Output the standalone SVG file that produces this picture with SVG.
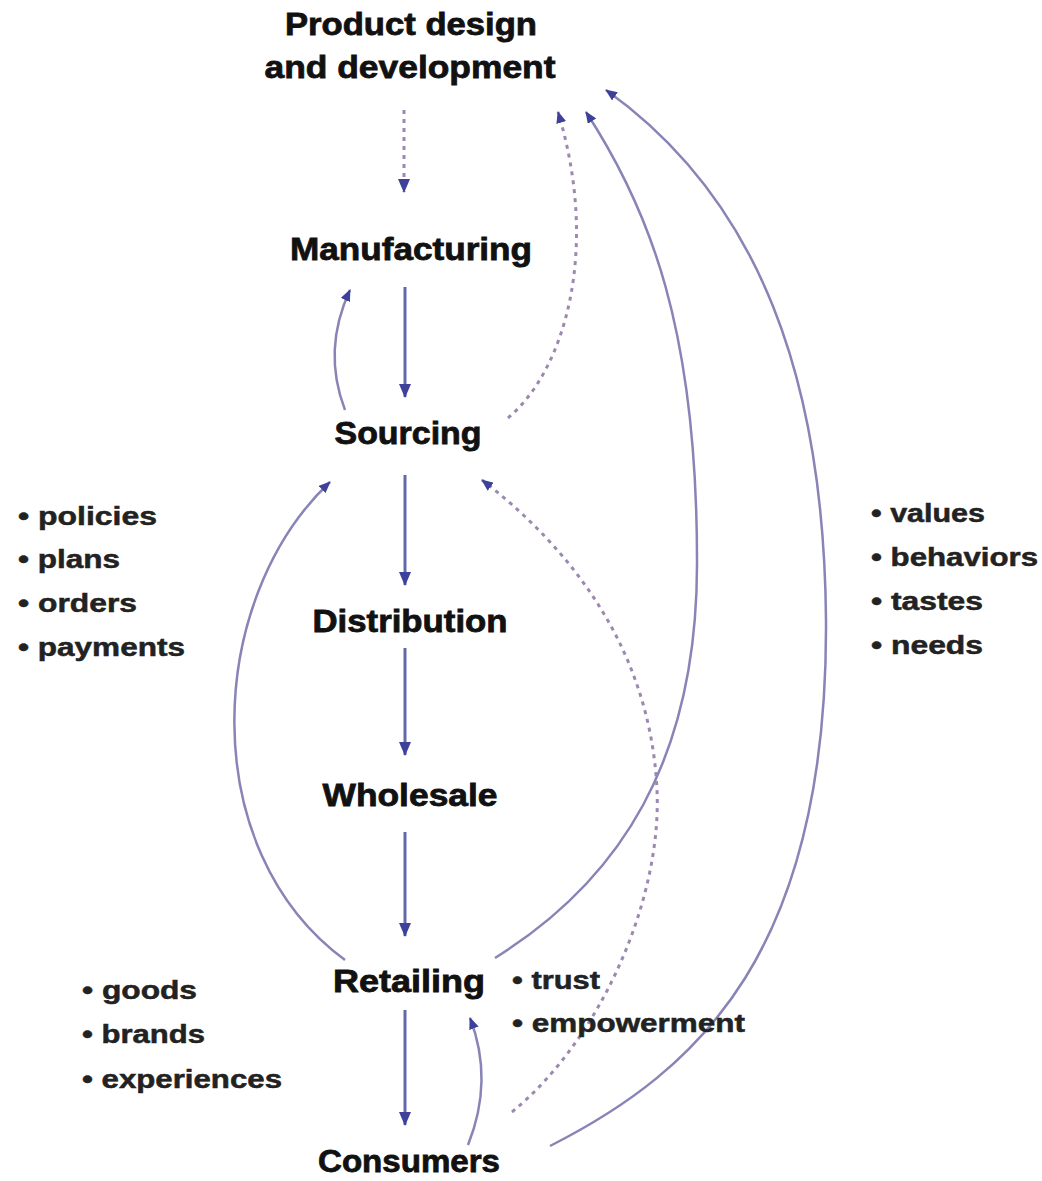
<svg xmlns="http://www.w3.org/2000/svg" width="1042" height="1181" viewBox="0 0 1042 1181">
<style>
.node{font-family:"Liberation Sans",Arial,sans-serif;font-weight:bold;font-size:32px;fill:#111;stroke:#111;stroke-width:0.8;}
.item{font-family:"Liberation Sans",Arial,sans-serif;font-weight:bold;font-size:25px;fill:#222;stroke:#222;stroke-width:0.5;}
.main{fill:none;stroke:#6368ad;stroke-width:3;}
.curve{fill:none;stroke:#8884b6;stroke-width:2.5;}
.dash{fill:none;stroke:#9c88b0;stroke-width:3;stroke-dasharray:4 5;}
</style>
<defs>
<marker id="ah" viewBox="0 0 14 12" refX="13" refY="6" markerWidth="14" markerHeight="12" markerUnits="userSpaceOnUse" orient="auto">
<path d="M0,0 L14,6 L0,12 z" fill="#3e419a"/>
</marker>
<marker id="ahs" viewBox="0 0 12 10" refX="11" refY="5" markerWidth="12" markerHeight="10" markerUnits="userSpaceOnUse" orient="auto">
<path d="M0,0 L12,5 L0,10 z" fill="#3e419a"/>
</marker>
</defs>
<rect width="1042" height="1181" fill="#ffffff"/>

<g id="connectors">
<path class="dash" d="M404,110 L404,192" marker-end="url(#ah)"/>
<path class="main" d="M405,287 L405,397" marker-end="url(#ah)"/>
<path class="main" d="M405,475 L405,585" marker-end="url(#ah)"/>
<path class="main" d="M405,648 L405,755" marker-end="url(#ah)"/>
<path class="main" d="M405,832 L405,936" marker-end="url(#ah)"/>
<path class="main" d="M405,1010 L405,1125" marker-end="url(#ah)"/>
<path class="curve" d="M345,410 Q322,350 350,290" marker-end="url(#ahs)"/>
<path class="dash" d="M508,418 C565,370 600,250 558,112" marker-end="url(#ahs)"/>
<path class="curve" d="M495,958 C620,880 698,760 697,560 C697,330 650,210 586,112" marker-end="url(#ahs)"/>
<path class="curve" d="M550,1146 C700,1070 828,950 826,620 C824,380 760,200 606,90" marker-end="url(#ahs)"/>
<path class="curve" d="M345,960 C195,850 205,600 330,482" marker-end="url(#ahs)"/>
<path class="dash" d="M512,1112 C600,1040 662,900 657,790 C650,640 560,540 482,480" marker-end="url(#ahs)"/>
<path class="curve" d="M468,1145 Q494,1080 470,1018" marker-end="url(#ahs)"/>
</g>

<g id="product">
<text class="node" x="411" y="35" text-anchor="middle" textLength="252" lengthAdjust="spacingAndGlyphs">Product design</text>
<text class="node" x="410" y="78" text-anchor="middle" textLength="291" lengthAdjust="spacingAndGlyphs">and development</text>
</g>
<g id="manufacturing"><text class="node" x="411" y="260" text-anchor="middle" textLength="242" lengthAdjust="spacingAndGlyphs">Manufacturing</text></g>
<g id="sourcing"><text class="node" x="408" y="444" text-anchor="middle" textLength="147" lengthAdjust="spacingAndGlyphs">Sourcing</text></g>
<g id="distribution"><text class="node" x="410" y="632" text-anchor="middle" textLength="195" lengthAdjust="spacingAndGlyphs">Distribution</text></g>
<g id="wholesale"><text class="node" x="410" y="806" text-anchor="middle" textLength="175" lengthAdjust="spacingAndGlyphs">Wholesale</text></g>
<g id="retailing"><text class="node" x="409" y="992" text-anchor="middle" textLength="152" lengthAdjust="spacingAndGlyphs">Retailing</text></g>
<g id="consumers"><text class="node" x="409" y="1172" text-anchor="middle" textLength="182" lengthAdjust="spacingAndGlyphs">Consumers</text></g>

<g id="list-left">
<text class="item" x="18" y="525" textLength="139" lengthAdjust="spacingAndGlyphs">• policies</text>
<text class="item" x="18" y="568" textLength="102" lengthAdjust="spacingAndGlyphs">• plans</text>
<text class="item" x="18" y="612" textLength="119" lengthAdjust="spacingAndGlyphs">• orders</text>
<text class="item" x="18" y="656" textLength="167" lengthAdjust="spacingAndGlyphs">• payments</text>
</g>
<g id="list-right">
<text class="item" x="871" y="522" textLength="114" lengthAdjust="spacingAndGlyphs">• values</text>
<text class="item" x="871" y="566" textLength="167" lengthAdjust="spacingAndGlyphs">• behaviors</text>
<text class="item" x="871" y="610" textLength="112" lengthAdjust="spacingAndGlyphs">• tastes</text>
<text class="item" x="871" y="654" textLength="112" lengthAdjust="spacingAndGlyphs">• needs</text>
</g>
<g id="list-bottom-left">
<text class="item" x="82" y="999" textLength="115" lengthAdjust="spacingAndGlyphs">• goods</text>
<text class="item" x="82" y="1043" textLength="123" lengthAdjust="spacingAndGlyphs">• brands</text>
<text class="item" x="82" y="1088" textLength="200" lengthAdjust="spacingAndGlyphs">• experiences</text>
</g>
<g id="list-retail">
<text class="item" x="512" y="989" textLength="88" lengthAdjust="spacingAndGlyphs">• trust</text>
<text class="item" x="512" y="1032" textLength="233" lengthAdjust="spacingAndGlyphs">• empowerment</text>
</g>
</svg>
